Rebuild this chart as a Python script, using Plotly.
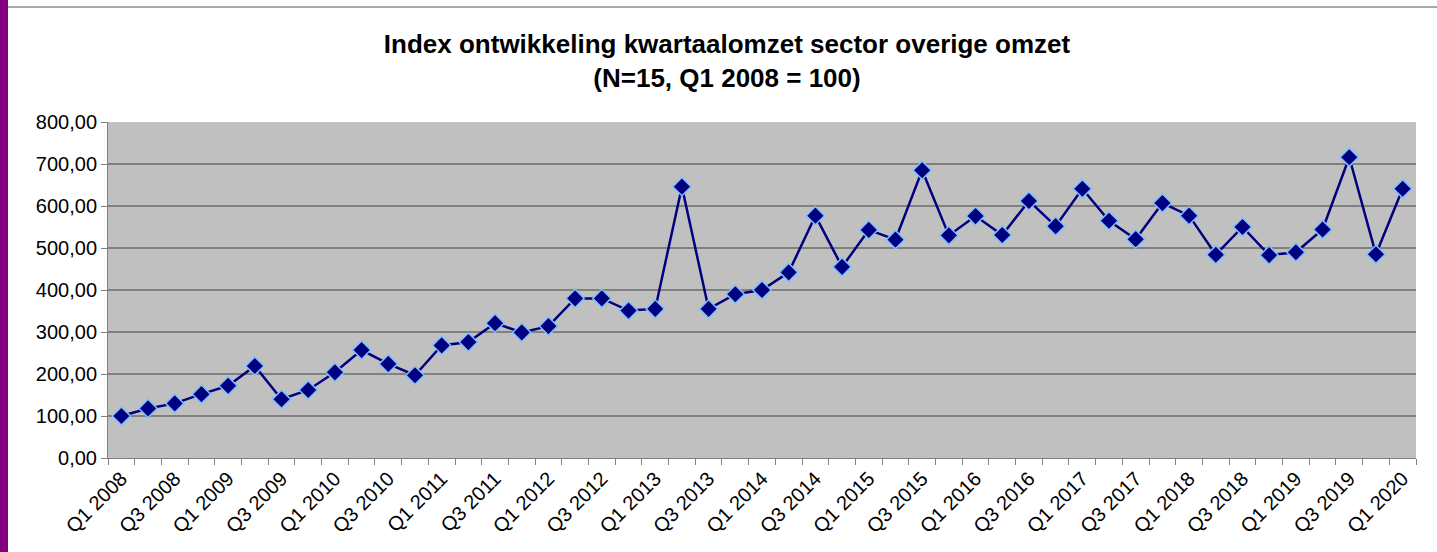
import plotly.graph_objects as go

years = list(range(2008, 2021))
quarters = [f"Q{q} {y}" for y in years for q in range(1, 5)][:49]

index_values = [
    100, 118, 130, 152,
    172, 219, 140, 162,
    204, 257, 224, 197,
    268, 276, 321, 299,
    314, 380, 380, 351,
    355, 646, 355, 390,
    400, 442, 577, 455,
    543, 520, 685, 530,
    576, 531, 612, 552,
    641, 565, 521, 607,
    577, 484, 550, 483,
    490, 544, 716, 485,
    641,
]

y_ticks = [0, 100, 200, 300, 400, 500, 600, 700, 800]
y_tick_labels = [f"{v:.2f}".replace(".", ",") for v in y_ticks]
x_tick_labels = [q if q.startswith(("Q1", "Q3")) else "" for q in quarters]

W, H = 1437, 552
L, R, T, B = 108, 21, 122, 94
PW, PH = W - L - R, H - T - B

fig = go.Figure()
fig.add_trace(go.Scatter(
    x=quarters, y=index_values, mode="lines+markers",
    line=dict(color="#000080", width=2.5),
    marker=dict(symbol="diamond", size=14, color="#000080",
                line=dict(color="#7fbfff", width=1.5)),
    showlegend=False, hoverinfo="x+y",
))

fig.update_layout(
    width=W, height=H,
    margin=dict(l=L, r=R, t=T, b=B),
    paper_bgcolor="white",
    plot_bgcolor="#C0C0C0",
    font=dict(family="Liberation Sans, Arial, sans-serif", color="black"),
    title=dict(
        text="Index ontwikkeling kwartaalomzet sector overige omzet<br>(N=15, Q1 2008 = 100)",
        font=dict(size=26, family="Liberation Sans, Arial, sans-serif", color="black", weight="bold"),
        x=727 / W, xanchor="center", xref="container",
        y=1 - 53 / H, yanchor="middle", yref="container",
    ),
    xaxis=dict(
        type="category",
        tickmode="array", tickvals=quarters, ticktext=x_tick_labels,
        tickson="boundaries",
        ticks="outside", ticklen=6, tickcolor="#808080", tickwidth=1,
        tickangle=-45, tickfont=dict(size=20),
        showline=True, linecolor="#808080", linewidth=1,
        showgrid=False, zeroline=False,
        range=[-0.5, len(quarters) - 0.5],
    ),
    yaxis=dict(
        range=[0, 800],
        tickmode="array", tickvals=y_ticks, ticktext=y_tick_labels,
        ticks="outside", ticklen=6, tickcolor="#808080",
        tickfont=dict(size=20),
        showline=True, linecolor="#808080", linewidth=1,
        showgrid=True, gridcolor="#808080", gridwidth=1.5,
        zeroline=False,
    ),
    shapes=[
        dict(type="rect", xref="paper", yref="paper",
             x0=-L / PW, x1=(-L + 8) / PW, y0=-B / PH, y1=1 + T / PH,
             fillcolor="#800080", line=dict(width=0), layer="above"),
        dict(type="line", xref="paper", yref="paper",
             x0=(-L + 8) / PW, x1=1 + R / PW,
             y0=1 + (T - 7) / PH, y1=1 + (T - 7) / PH,
             line=dict(color="#A8A8A8", width=2)),
    ],
)

fig.write_html("out.html", config={"displayModeBar": False},
               post_script="document.body.style.margin='0';")
